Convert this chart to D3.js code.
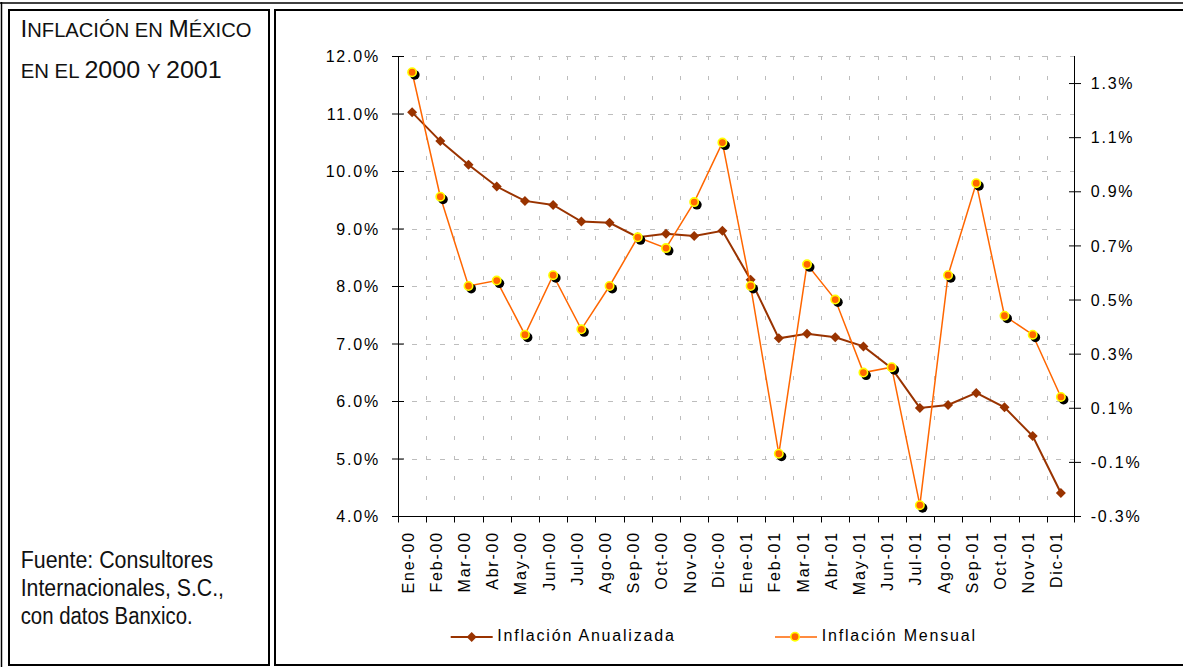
<!DOCTYPE html>
<html><head><meta charset="utf-8">
<script src="https://cdn.jsdelivr.net/npm/d3@7"></script>
<style>
html,body{margin:0;padding:0;background:#fff;}
svg{display:block;}
</style></head>
<body>
<svg id="chart" width="1183" height="667"></svg>
<script>
// ---- data ----
const categories = ["Ene-00","Feb-00","Mar-00","Abr-00","May-00","Jun-00","Jul-00","Ago-00","Sep-00","Oct-00","Nov-00","Dic-00",
                    "Ene-01","Feb-01","Mar-01","Abr-01","May-01","Jun-01","Jul-01","Ago-01","Sep-01","Oct-01","Nov-01","Dic-01"];
const anualizada = [11.02,10.52,10.11,9.73,9.48,9.41,9.12,9.10,8.85,8.91,8.87,8.96,
                    8.11,7.09,7.17,7.11,6.95,6.57,5.88,5.93,6.14,5.89,5.39,4.40];
const mensual = [1.34,0.88,0.55,0.57,0.37,0.59,0.39,0.55,0.73,0.69,0.86,1.08,
                 0.55,-0.07,0.63,0.50,0.23,0.25,-0.26,0.59,0.93,0.44,0.37,0.14];
const leftTicks = [4,5,6,7,8,9,10,11,12];
const rightTicks = [-0.3,-0.1,0.1,0.3,0.5,0.7,0.9,1.1,1.3];
const seriesNames = ["Inflación Anualizada","Inflación Mensual"];

const svg = d3.select("#chart");
const BROWN = "#993300", ORANGE = "#FF6600", YELLOW = "#FFFF00", GRID = "#bdbdbd";
const FONT = "'Liberation Sans', Arial, sans-serif";
const pct = d => d3.format(".1f")(d).replace("\u2212","-") + "%";

// ---- frames ----
const fr = svg.append("g").attr("fill","none").attr("stroke","#000");
fr.append("line").attr("x1",0).attr("x2",1183).attr("y1",3).attr("y2",3).attr("stroke-width",1.5);
fr.append("line").attr("x1",1.5).attr("x2",1.5).attr("y1",2).attr("y2",667).attr("stroke-width",1.5);
fr.append("rect").attr("x",9).attr("y",10).attr("width",260).attr("height",655).attr("stroke-width",2);
fr.append("rect").attr("x",275).attr("y",10).attr("width",1000).attr("height",655).attr("stroke-width",2);

// ---- left panel text ----
const NARROW = "'Liberation Sans Narrow', 'Liberation Sans', Arial, sans-serif";
const t1 = svg.append("text").attr("x",20.5).attr("y",36.7).attr("font-family",NARROW).attr("fill","#111")
  .attr("textLength",231).attr("lengthAdjust","spacingAndGlyphs");
t1.append("tspan").attr("font-size",23.5).text("I");
t1.append("tspan").attr("font-size",19.5).text("NFLACIÓN EN ");
t1.append("tspan").attr("font-size",23.5).text("M");
t1.append("tspan").attr("font-size",19.5).text("ÉXICO");
const t2 = svg.append("text").attr("x",20.7).attr("y",78.3).attr("font-family",NARROW).attr("fill","#111")
  .attr("textLength",201).attr("lengthAdjust","spacingAndGlyphs");
t2.append("tspan").attr("font-size",19.5).text("EN EL ");
t2.append("tspan").attr("font-size",24).text("2000 ");
t2.append("tspan").attr("font-size",19.5).text("Y ");
t2.append("tspan").attr("font-size",24).text("2001");

const foot = [["Fuente: Consultores",568.3,192.6],["Internacionales, S.C.,",596,203.3],["con datos Banxico.",623.5,172]];
foot.forEach(f=>{
  svg.append("text").attr("x",20.7).attr("y",f[1]).attr("font-family",NARROW).attr("font-size",23)
    .attr("fill","#111").attr("textLength",f[2]).attr("lengthAdjust","spacingAndGlyphs").text(f[0]);
});

// ---- scales ----
const plotL = 398, plotR = 1075, plotT = 56, plotB = 516;
const x = d3.scaleBand().domain(categories).range([plotL, plotR]).padding(0);
const yL = d3.scaleLinear().domain([4,12]).range([plotB, plotT]);
const yR = d3.scaleLinear().domain([-0.3,1.4]).range([plotB, plotT]);
const cx = d => x(d) + x.bandwidth()/2;

// ---- gridlines ----
const grid = svg.append("g").attr("stroke",GRID).attr("stroke-width",1);
leftTicks.filter(v=>v>4).forEach(v=>{
  grid.append("line").attr("x1",plotL).attr("x2",plotR).attr("y1",Math.round(yL(v))+0.5).attr("y2",Math.round(yL(v))+0.5)
    .attr("stroke-dasharray","5,9");
});
categories.slice(1).forEach(c=>{
  const xx = Math.round(x(c))+0.5;
  grid.append("line").attr("x1",xx).attr("x2",xx).attr("y1",plotT).attr("y2",plotB).attr("stroke-dasharray","4,16");
});

// ---- axes ----
const txtStyle = sel => sel.attr("font-family",FONT).attr("font-size",16).attr("letter-spacing","1.8px").attr("fill","#000");

const axL = svg.append("g").attr("transform",`translate(${plotL},0)`)
  .call(d3.axisLeft(yL).tickValues(leftTicks).tickSize(6).tickFormat(pct));
axL.select(".domain").attr("stroke","#000").attr("d",`M0.5,${plotT}V${plotB}`);
axL.selectAll(".tick line").attr("x1",6).attr("x2",-6).attr("stroke","#000");
axL.selectAll(".tick text").attr("x",-18).attr("dy","0.35em").attr("text-anchor","end").call(txtStyle);
axL.attr("font-size",null).attr("font-family",null);

const axR = svg.append("g").attr("transform",`translate(${plotR},0)`)
  .call(d3.axisRight(yR).tickValues(rightTicks).tickSize(6).tickFormat(pct));
axR.select(".domain").attr("stroke","#000").attr("d",`M-0.5,${plotT}V${plotB+6}`);
axR.selectAll(".tick line").attr("x1",-6).attr("x2",6).attr("stroke","#000");
axR.selectAll(".tick text").attr("x",15.7).attr("dy","0.35em").attr("text-anchor","start").call(txtStyle);
axR.attr("font-size",null).attr("font-family",null);

// x axis: ticks at category boundaries
const axB = svg.append("g").attr("transform",`translate(0,${plotB})`);
axB.append("line").attr("x1",plotL).attr("x2",plotR).attr("y1",0.5).attr("y2",0.5).attr("stroke","#000");
categories.concat(["__end"]).forEach((c,i)=>{
  const xx = i < categories.length ? Math.round(x(c))+0.5 : plotR - 0.5;
  axB.append("line").attr("x1",xx).attr("x2",xx).attr("y1",0).attr("y2",6.5).attr("stroke","#000");
});
categories.forEach(c=>{
  axB.append("text").attr("transform",`translate(${cx(c)+1.5},${531-plotB}) rotate(-90)`)
    .attr("text-anchor","end").call(txtStyle).text(c);
});

// ---- series: Inflación Anualizada ----
const lineA = d3.line().x((d,i)=>cx(categories[i])).y(d=>yL(d));
svg.append("path").datum(anualizada).attr("d",lineA).attr("fill","none").attr("stroke",BROWN).attr("stroke-width",2);
const diamond = (px,py,r) => `M${px},${py-r}L${px+r},${py}L${px},${py+r}L${px-r},${py}Z`;
svg.append("g").selectAll("path").data(anualizada).join("path")
  .attr("d",(d,i)=>diamond(cx(categories[i]),yL(d),5)).attr("fill",BROWN);

// ---- series: Inflación Mensual ----
const lineM = d3.line().x((d,i)=>cx(categories[i])).y(d=>yR(d));
svg.append("path").datum(mensual).attr("d",lineM).attr("fill","none").attr("stroke",ORANGE).attr("stroke-width",1.5);
const gm = svg.append("g");
gm.selectAll("circle.sh").data(mensual).join("circle").attr("class","sh")
  .attr("cx",(d,i)=>cx(categories[i])+2.7).attr("cy",d=>yR(d)+2.7).attr("r",4.8).attr("fill","#000");
gm.selectAll("circle.mk").data(mensual).join("circle").attr("class","mk")
  .attr("cx",(d,i)=>cx(categories[i])).attr("cy",d=>yR(d)).attr("r",4.2)
  .attr("fill",ORANGE).attr("stroke",YELLOW).attr("stroke-width",1.6);

// ---- legend ----
const lg = svg.append("g");
const ly = 637;
lg.append("line").attr("x1",450.7).attr("x2",492.7).attr("y1",ly).attr("y2",ly).attr("stroke",BROWN).attr("stroke-width",2);
lg.append("path").attr("d",diamond(471.7,ly,5)).attr("fill",BROWN);
lg.append("text").attr("x",497.3).attr("y",640.7).call(txtStyle).text(seriesNames[0]);
lg.append("line").attr("x1",775).attr("x2",817).attr("y1",ly).attr("y2",ly).attr("stroke",ORANGE).attr("stroke-width",1.5);
lg.append("circle").attr("cx",795).attr("cy",ly-0.3).attr("r",4.2).attr("fill",ORANGE).attr("stroke",YELLOW).attr("stroke-width",1.6);
lg.append("text").attr("x",821.7).attr("y",640.7).call(txtStyle).text(seriesNames[1]);
</script>
</body></html>
